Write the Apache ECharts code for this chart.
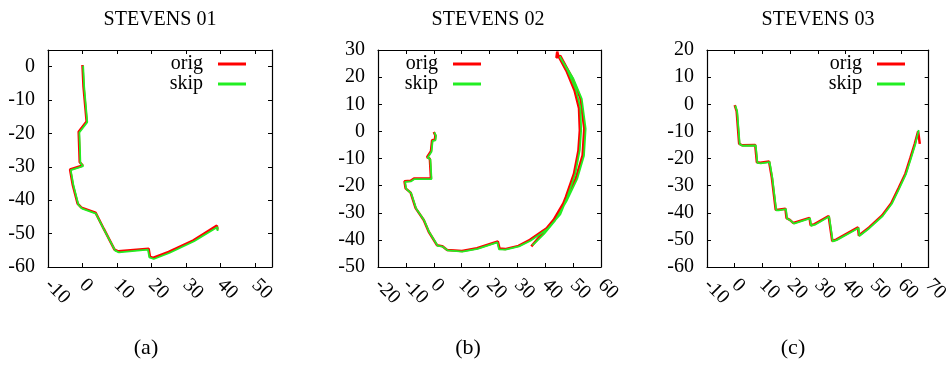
<!DOCTYPE html>
<html>
<head>
<meta charset="utf-8">
<script src="https://cdn.jsdelivr.net/npm/echarts@6/dist/echarts.min.js"></script>
<style>
html, body { margin: 0; padding: 0; background: #fff; }
#main { width: 952px; height: 365px; }
</style>
</head>
<body>
<div id="main"></div>
<script>
// trajectories [x, y]
var stevens01Orig = [[0.0,0.5],[0.3,-6],[1.2,-16.4],[-1.1,-19.5],[-0.9,-25.5],[-0.8,-28.6],[0.1,-29.6],[-3.6,-30.8],[-2.8,-35.5],[-1.4,-41.0],[-0.3,-42.2],[3.8,-43.7],[6.2,-48.6],[9.3,-54.8],[10.4,-55.3],[19.2,-54.5],[19.6,-56.9],[20.4,-57.3],[25.0,-55.5],[32.2,-52.0],[39.0,-47.6],[39.2,-48.8]];
var stevens01Skip = [[0.2,0.3],[0.5,-6],[1.4,-16.6],[-0.9,-19.7],[-0.7,-25.5],[-0.6,-28.8],[0.2,-29.8],[-3.4,-31.0],[-2.6,-35.6],[-1.2,-41.3],[-0.1,-42.5],[3.9,-44.0],[6.3,-48.9],[9.5,-55.1],[10.6,-55.6],[19.0,-54.8],[19.4,-57.1],[20.7,-57.6],[25.2,-55.8],[32.4,-52.3],[39.2,-48.0],[39.2,-49.2]];

var stevens02Orig = [[0,-0.2],[0.6,-1.5],[0.4,-3.1],[-0.6,-3.3],[-1.0,-7.3],[-2.4,-9.5],[-1.4,-10.1],[-1.0,-17.4],[-7.1,-17.4],[-8.3,-18.2],[-10.5,-18.4],[-10.1,-21.0],[-8.3,-22.6],[-6.5,-28.3],[-3.6,-32.7],[-1.8,-37.0],[1.2,-42.0],[3.0,-42.3],[4.8,-43.7],[10.1,-44.1],[15.5,-43.1],[23.0,-40.6],[23.6,-43.2],[25.6,-43.4],[30.4,-42.2],[34.5,-40.0],[40.5,-35.7],[45.0,-30.4],[47.4,-24.2],[50.3,-15.6],[51.9,-7.0],[52.4,0.4],[52.1,8.5],[50.5,15.1],[47.6,22.3],[44.6,28.0],[44.3,29.4],[44.0,27.2],[45.4,27.8],[49.6,19.8],[52.6,12.3],[54.0,1.0],[53.4,-8.8],[51.0,-17.2],[47.0,-25.6],[43.0,-32.6],[39.0,-37.6],[35.0,-42.4]];
var stevens02Skip = [[0.2,-0.4],[0.8,-1.7],[0.6,-3.3],[-0.4,-3.5],[-0.8,-7.5],[-2.2,-9.7],[-1.2,-10.3],[-0.8,-17.6],[-6.9,-17.6],[-8.1,-18.4],[-10.3,-18.6],[-9.9,-21.2],[-8.1,-22.8],[-6.3,-28.5],[-3.4,-32.9],[-1.6,-37.2],[1.4,-42.2],[3.2,-42.5],[5.0,-43.9],[10.3,-44.3],[15.7,-43.3],[22.8,-40.9],[23.4,-43.5],[25.8,-43.6],[30.6,-42.4],[34.7,-40.3],[40.8,-36.0],[45.4,-30.6],[47.9,-24.3],[50.8,-15.6],[52.4,-6.8],[52.9,0.6],[52.6,8.8],[51.0,15.4],[48.0,22.5],[45.2,27.6],[45.8,27.6],[50.0,19.6],[53.1,12.0],[54.5,1.0],[53.9,-9.0],[51.5,-17.4],[47.6,-25.8],[43.6,-32.8],[39.6,-37.8],[35.4,-42.0]];

var stevens03Orig = [[0,-0.3],[0.7,-2.5],[1.6,-14.5],[2.6,-15.1],[7.4,-15.0],[8.0,-21.4],[9.2,-21.6],[12.4,-21.1],[13.4,-27.0],[14.8,-38.9],[15.7,-38.9],[18.3,-38.5],[18.7,-42.0],[19.9,-42.6],[21.2,-43.8],[27.0,-41.9],[27.4,-44.6],[28.8,-44.2],[33.9,-41.2],[35.2,-50.4],[36.6,-49.9],[44.5,-45.4],[44.8,-48.4],[48.5,-45.4],[53.2,-41.0],[56.5,-36.5],[59.2,-30.8],[61.6,-25.6],[63.4,-19.8],[65.0,-14.5],[66.2,-10.0],[66.8,-14.6]];
var stevens03Skip = [[0.2,-0.5],[0.9,-2.7],[1.8,-14.7],[2.8,-15.3],[7.6,-15.2],[8.2,-21.6],[9.4,-21.8],[12.6,-21.3],[13.6,-27.2],[15.0,-39.1],[15.9,-39.1],[18.5,-38.7],[18.9,-42.2],[20.1,-42.8],[21.4,-44.0],[27.2,-42.1],[27.6,-44.8],[29.0,-44.4],[34.1,-41.4],[35.4,-50.6],[36.8,-50.1],[44.7,-45.6],[45.0,-48.6],[48.7,-45.6],[53.4,-41.2],[56.7,-36.7],[59.4,-31.0],[61.8,-25.8],[63.6,-20.0],[65.2,-14.7],[66.4,-9.5]];

// x tick labels, evenly spaced over each x range (blank = no label)
var xLabels01 = ['-10', '', '0', '', '10', '', '20', '', '30', '', '40', '', '50', ''];
var xLabels02 = ['-20', '-10', '0', '10', '20', '30', '40', '50', '60'];
var xLabels03 = ['-10', '0', '10', '20', '30', '40', '50', '60', '70'];

var titles = ['STEVENS 01', 'STEVENS 02', 'STEVENS 03'];
var captions = ['(a)', '(b)', '(c)'];
var xRanges = [[-10, 55], [-20, 60], [-10, 70]];
var yRanges = [[-60, 5], [-50, 30], [-60, 20]];

var chart = echarts.init(document.getElementById('main'));
var serif = '"Liberation Serif", "DejaVu Serif", serif';

var grids = [
    {left: 48, top: 50, width: 224, height: 217},
    {left: 378, top: 50, width: 223, height: 217},
    {left: 707, top: 50, width: 224, height: 217}
];
var legendRight = [701, 466, 42];
var titleX = [160, 488, 818];
var captionX = [146, 468, 793];
var xLabels = [xLabels01, xLabels02, xLabels03];
var data = [[stevens01Orig, stevens01Skip], [stevens02Orig, stevens02Skip], [stevens03Orig, stevens03Skip]];

function tens(v) {
    return v % 10 === 0 ? String(v) : '';
}

function axis(idx, pos, range, labels) {
    return {
        type: 'value',
        gridIndex: idx,
        position: pos,
        min: range[0],
        max: range[1],
        interval: 10,
        axisLine: {show: true, onZero: false, lineStyle: {color: '#000', width: 1.2}},
        axisTick: {show: true, inside: true, length: 4, lineStyle: {color: '#000'}},
        splitLine: {show: false},
        axisLabel: {
            show: labels,
            formatter: tens,
            color: '#000',
            fontFamily: serif,
            fontSize: 20,
            margin: 13
        }
    };
}

// label-only category axis so that no rotated label gets dropped
function labelAxis(idx, labels) {
    return {
        type: 'category',
        gridIndex: idx,
        position: 'bottom',
        data: labels,
        boundaryGap: false,
        axisLine: {show: false},
        axisTick: {show: false},
        splitLine: {show: false},
        axisLabel: {
            interval: 0,
            rotate: -45,
            color: '#000',
            fontFamily: serif,
            fontSize: 20,
            margin: 15
        }
    };
}

var xAxes = [], yAxes = [], series = [], legends = [], graphics = [];
for (var i = 0; i < 3; i++) {
    xAxes.push(axis(i, 'bottom', xRanges[i], false));
    xAxes.push(axis(i, 'top', xRanges[i], false));
    xAxes.push(labelAxis(i, xLabels[i]));
    yAxes.push(axis(i, 'left', yRanges[i], true));
    yAxes.push(axis(i, 'right', yRanges[i], false));
    series.push({
        name: 'orig', type: 'line', xAxisIndex: i * 3, yAxisIndex: i * 2,
        data: data[i][0], symbol: 'none', silent: true,
        lineStyle: {color: '#ff0000', width: 2.5}, itemStyle: {color: '#ff0000'}
    });
    series.push({
        name: 'skip', type: 'line', xAxisIndex: i * 3, yAxisIndex: i * 2,
        data: data[i][1], symbol: 'none', silent: true,
        lineStyle: {color: '#22ee22', width: 1.8}, itemStyle: {color: '#22ee22'}
    });
    legends.push({
        data: ['orig', 'skip'],
        orient: 'vertical',
        right: legendRight[i],
        top: 49,
        align: 'right',
        icon: 'rect',
        itemWidth: 28,
        itemHeight: 3,
        itemGap: 0,
        selectedMode: false,
        textStyle: {fontFamily: serif, fontSize: 20, color: '#000', padding: [0, 10, 0, 0]}
    });
    graphics.push({
        type: 'text', x: titleX[i], y: 20,
        style: {text: titles[i], font: '20px ' + serif, fill: '#000', align: 'center', verticalAlign: 'middle'}
    });
    graphics.push({
        type: 'text', x: captionX[i], y: 348,
        style: {text: captions[i], font: '22px ' + serif, fill: '#000', align: 'center', verticalAlign: 'middle'}
    });
}

chart.setOption({
    animation: false,
    backgroundColor: '#fff',
    grid: grids,
    xAxis: xAxes,
    yAxis: yAxes,
    legend: legends,
    graphic: graphics,
    series: series
});
</script>
</body>
</html>
